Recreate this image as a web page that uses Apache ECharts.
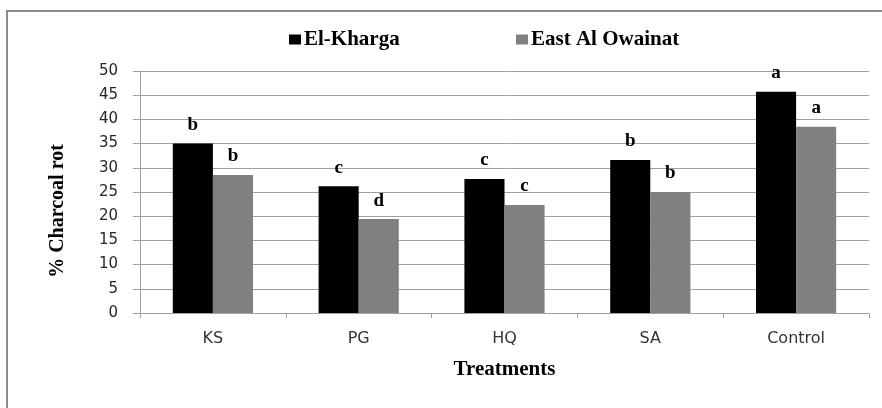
<!DOCTYPE html>
<html>
<head>
<meta charset="utf-8">
<script src="https://cdn.jsdelivr.net/npm/echarts@6/dist/echarts.min.js"></script>
<style>
html,body{margin:0;padding:0;background:#fff;}
#chart{width:882px;height:408px;}
</style>
</head>
<body>
<div id="chart"></div>
<script>
const categories = ['KS', 'PG', 'HQ', 'SA', 'Control'];
const elKharga = [35.0, 26.2, 27.7, 31.6, 45.7];
const eastAlOwainat = [28.5, 19.4, 22.3, 25.0, 38.5];
const elKhargaLetters = ['b', 'c', 'c', 'b', 'a'];
const eastLetters = ['b', 'd', 'c', 'b', 'a'];
const yTicks = [0, 5, 10, 15, 20, 25, 30, 35, 40, 45, 50];

const serif = '"Liberation Serif", "Times New Roman", serif';
const sans = '"DejaVu Sans", Verdana, sans-serif';
const gridColor = '#a0a0a0';

const chart = echarts.init(document.getElementById('chart'), null, {renderer: 'canvas'});
const letterLabel = (letters) => ({
  show: true,
  position: 'top',
  distance: 9,
  fontFamily: serif,
  fontWeight: 'bold',
  fontSize: 19,
  color: '#000',
  formatter: p => letters[p.dataIndex]
});
chart.setOption({
  animation: false,
  backgroundColor: '#fff',
  graphic: [{
    type: 'rect',
    shape: {x: 7, y: 11, width: 900, height: 420},
    style: {fill: 'none', stroke: '#8c8c8c', lineWidth: 2},
    silent: true,
    z: -1
  }],
  legend: [{
    data: ['El-Kharga'],
    left: 284,
    top: 24,
    icon: 'rect',
    itemWidth: 12,
    itemHeight: 10,
    textStyle: {fontFamily: serif, fontWeight: 'bold', fontSize: 21, color: '#000', padding: [0, 0, 0, -2]}
  }, {
    data: ['East Al Owainat'],
    left: 511,
    top: 24,
    icon: 'rect',
    itemWidth: 12,
    itemHeight: 10,
    textStyle: {fontFamily: serif, fontWeight: 'bold', fontSize: 21, color: '#000', padding: [0, 0, 0, -2]}
  }],
  grid: {left: 140, right: 13, top: 71, bottom: 95, containLabel: false},
  xAxis: {
    type: 'category',
    data: categories,
    name: 'Treatments',
    nameLocation: 'middle',
    nameGap: 46,
    nameTextStyle: {fontFamily: serif, fontWeight: 'bold', fontSize: 21, color: '#000'},
    axisLine: {lineStyle: {color: gridColor, width: 1}},
    axisTick: {show: true, length: 5, lineStyle: {color: gridColor}},
    axisLabel: {fontFamily: sans, fontSize: 16, color: '#333', margin: 18}
  },
  yAxis: {
    type: 'value',
    min: 0,
    max: 50,
    interval: 5,
    name: '% Charcoal rot',
    nameLocation: 'middle',
    nameGap: 72,
    nameTextStyle: {fontFamily: serif, fontWeight: 'bold', fontSize: 20, color: '#000', padding: [0, 38, 0, 0]},
    axisLine: {show: true, lineStyle: {color: gridColor, width: 1}},
    axisTick: {show: true, length: 7, lineStyle: {color: gridColor}},
    axisLabel: {fontFamily: sans, fontSize: 15, color: '#262626', margin: 22,
      formatter: v => yTicks.includes(v) ? String(v) : ''},
    splitLine: {show: true, lineStyle: {color: gridColor, width: 1}}
  },
  series: [{
    name: 'El-Kharga',
    type: 'bar',
    data: elKharga,
    barGap: '0%',
    barCategoryGap: '45%',
    itemStyle: {color: '#000000'},
    label: letterLabel(elKhargaLetters)
  }, {
    name: 'East Al Owainat',
    type: 'bar',
    data: eastAlOwainat,
    barGap: '0%',
    barCategoryGap: '45%',
    itemStyle: {color: '#808080'},
    label: letterLabel(eastLetters)
  }]
});
</script>
</body>
</html>
